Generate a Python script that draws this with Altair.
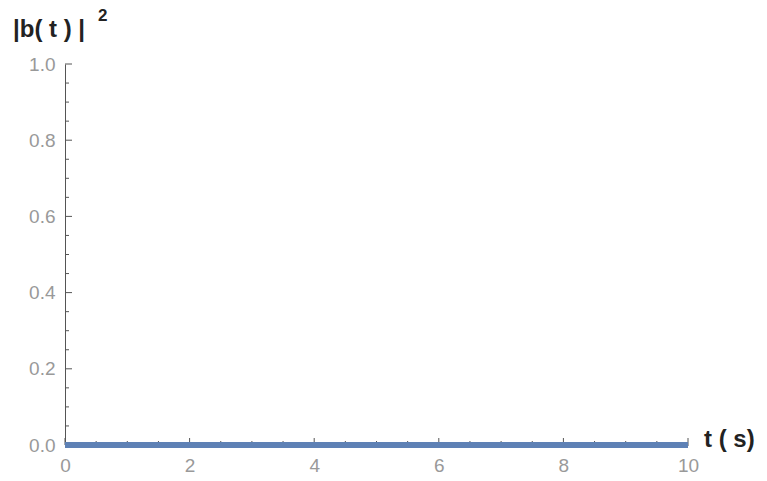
import altair as alt
import pandas as pd

# data: |b(t)|^2 stays at zero over the whole time window
t_values = [0, 1, 2, 3, 4, 5, 6, 7, 8, 9, 10]
b2_values = [0, 0, 0, 0, 0, 0, 0, 0, 0, 0, 0]

x_major = [0, 2, 4, 6, 8, 10]
x_minor = [0.5, 1, 1.5, 2.5, 3, 3.5, 4.5, 5, 5.5, 6.5, 7, 7.5, 8.5, 9, 9.5]
y_major = [0.0, 0.2, 0.4, 0.6, 0.8, 1.0]
y_minor = [0.05, 0.1, 0.15, 0.25, 0.3, 0.35, 0.45, 0.5, 0.55,
           0.65, 0.7, 0.75, 0.85, 0.9, 0.95]

W, H = 623, 381
AXIS_COLOR = "#555555"
LABEL_COLOR = "#999999"
FONT = "Liberation Sans"

xs = alt.Scale(domain=[0, 10], nice=False, zero=False)
ys = alt.Scale(domain=[0, 1], nice=False, zero=False)

df = pd.DataFrame({"t": t_values, "b2": b2_values})

base_axes = alt.Chart(df).mark_line(opacity=0).encode(
    x=alt.X("t:Q", scale=xs, title=None,
            axis=alt.Axis(values=x_major, format="d", ticks=False, grid=False,
                          domainColor=AXIS_COLOR, domainWidth=1,
                          labelColor=LABEL_COLOR, labelFont=FONT, labelFontSize=19,
                          labelPadding=11, labelFlush=False)),
    y=alt.Y("b2:Q", scale=ys, title=None,
            axis=alt.Axis(values=y_major, format=".1f", ticks=False, grid=False,
                          domainColor=AXIS_COLOR, domainWidth=1,
                          labelColor=LABEL_COLOR, labelFont=FONT, labelFontSize=19,
                          labelPadding=10, labelFlush=False)),
)

xmaj = alt.Chart(pd.DataFrame({"v": x_major})).mark_rule(color=AXIS_COLOR, strokeWidth=1).encode(
    x=alt.X("v:Q", scale=xs), y=alt.value(H), y2=alt.value(H - 7))
xmin = alt.Chart(pd.DataFrame({"v": x_minor})).mark_rule(color=AXIS_COLOR, strokeWidth=1).encode(
    x=alt.X("v:Q", scale=xs), y=alt.value(H), y2=alt.value(H - 4))
ymaj = alt.Chart(pd.DataFrame({"v": y_major})).mark_rule(color=AXIS_COLOR, strokeWidth=1).encode(
    y=alt.Y("v:Q", scale=ys), x=alt.value(0), x2=alt.value(7))
ymin = alt.Chart(pd.DataFrame({"v": y_minor})).mark_rule(color=AXIS_COLOR, strokeWidth=1).encode(
    y=alt.Y("v:Q", scale=ys), x=alt.value(0), x2=alt.value(4))

line = alt.Chart(df).mark_line(color="#5E81B5", strokeWidth=6, clip=False).encode(
    x=alt.X("t:Q", scale=xs), y=alt.Y("b2:Q", scale=ys))

one = pd.DataFrame({"a": [0]})
ytitle = alt.Chart(one).mark_text(text="|b( t ) |", font=FONT, fontSize=24, fontWeight="bold",
                                  color="#222222", align="left", baseline="middle").encode(
    x=alt.value(-52), y=alt.value(-34))
ysup = alt.Chart(one).mark_text(text="2", font=FONT, fontSize=17, fontWeight="bold",
                                color="#222222", align="left", baseline="middle").encode(
    x=alt.value(33), y=alt.value(-48))
xtitle = alt.Chart(one).mark_text(text="t ( s)", font=FONT, fontSize=24, fontWeight="bold",
                                  color="#222222", align="left", baseline="middle").encode(
    x=alt.value(639), y=alt.value(H - 5))

chart = alt.layer(base_axes, xmin, ymin, xmaj, ymaj, line, ytitle, ysup, xtitle).properties(
    width=W, height=H,
    background="white",
    autosize=alt.AutoSizeParams(type="none"),
    padding={"left": 65, "top": 64, "right": 79, "bottom": 36},
).configure_view(stroke=None).configure_axis(grid=False)

chart.save("out.html", embed_options={"renderer": "svg", "actions": False})
